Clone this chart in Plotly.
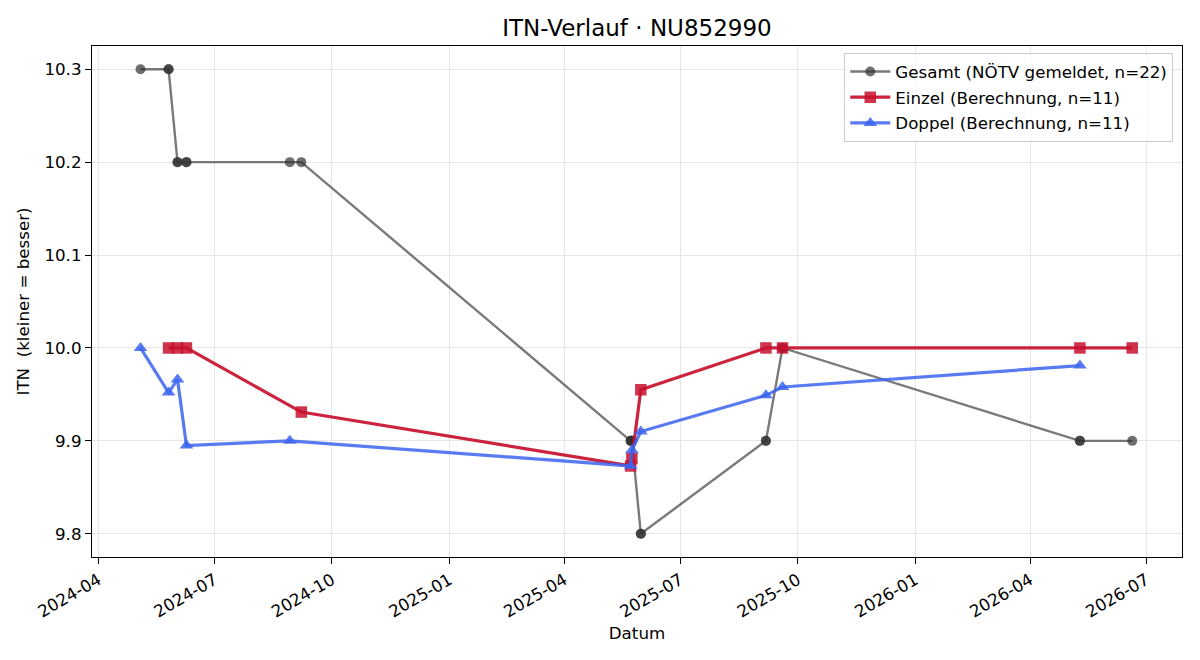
import plotly.graph_objects as go

# ---- data ----
gesamt_dates = ["2024-05-04", "2024-05-26", "2024-05-26", "2024-06-02", "2024-06-02",
                "2024-06-09", "2024-06-09", "2024-08-29", "2024-09-07",
                "2025-05-23", "2025-05-23", "2025-05-24", "2025-05-24",
                "2025-05-31", "2025-05-31", "2025-09-06", "2025-09-06",
                "2025-09-19", "2025-09-19", "2026-05-10", "2026-05-10", "2026-06-20"]
gesamt_vals = [10.3, 10.3, 10.3, 10.2, 10.2,
               10.2, 10.2, 10.2, 10.2,
               9.9, 9.9, 9.9, 9.9,
               9.8, 9.8, 9.9, 9.9,
               10.0, 10.0, 9.9, 9.9, 9.9]

einzel_dates = ["2024-05-26", "2024-06-02", "2024-06-09", "2024-09-07", "2025-05-23",
                "2025-05-24", "2025-05-31", "2025-09-06", "2025-09-19", "2026-05-10",
                "2026-06-20"]
einzel_vals = [10.0, 10.0, 10.0, 9.931, 9.873, 9.881, 9.955, 10.0, 10.0, 10.0, 10.0]

doppel_dates = ["2024-05-04", "2024-05-26", "2024-06-02", "2024-06-09", "2024-08-29",
                "2025-05-23", "2025-05-24", "2025-05-31", "2025-09-06", "2025-09-19",
                "2026-05-10"]
doppel_vals = [10.0, 9.952, 9.966, 9.895, 9.9, 9.873, 9.89, 9.91, 9.949, 9.958, 9.981]

y_ticks = [9.8, 9.9, 10.0, 10.1, 10.2, 10.3]
x_ticks = ["2024-04-01", "2024-07-01", "2024-10-01", "2025-01-01", "2025-04-01",
           "2025-07-01", "2025-10-01", "2026-01-01", "2026-04-01", "2026-07-01"]

FONT = "DejaVu Sans"
FS = 16.7

fig = go.Figure()
fig.add_trace(go.Scatter(
    x=gesamt_dates, y=gesamt_vals, mode="lines+markers",
    name="Gesamt (NÖTV gemeldet, n=22)", legendgroup="g",
    line=dict(color="rgba(50,50,50,0.65)", width=2.4),
    marker=dict(symbol="circle", size=10, color="rgba(50,50,50,0.7)", line=dict(width=0)),
))
fig.add_trace(go.Scatter(
    x=einzel_dates, y=einzel_vals, mode="lines+markers",
    name="Einzel (Berechnung, n=11)", legendgroup="e",
    line=dict(color="rgba(200,16,46,0.92)", width=3.2),
    marker=dict(symbol="square", size=11.5, color="rgba(200,16,46,0.85)", line=dict(width=0)),
))
fig.add_trace(go.Scatter(
    x=doppel_dates, y=doppel_vals, mode="lines+markers",
    name="Doppel (Berechnung, n=11)", legendgroup="d",
    line=dict(color="rgba(60,100,240,0.85)", width=3.2),
    marker=dict(symbol="triangle-up", size=12, color="rgba(60,100,240,0.85)", line=dict(width=0)),
))

fig.update_layout(
    width=1200, height=660,
    margin=dict(l=92, r=18, t=46, b=103),
    paper_bgcolor="white", plot_bgcolor="white",
    font=dict(family=FONT, size=FS, color="black"),
    title=dict(text="ITN-Verlauf · NU852990", xref="paper", x=0.5, xanchor="center",
               y=1 - 28 / 660, yanchor="middle", font=dict(size=23, family=FONT)),
    legend=dict(x=0.992, xanchor="right", y=0.986, yanchor="top",
                bordercolor="#cccccc", borderwidth=1, bgcolor="rgba(255,255,255,0.8)",
                font=dict(size=FS, family=FONT), tracegroupgap=1,
                itemwidth=40),
    showlegend=True,
)

fig.update_xaxes(
    type="date", range=["2024-03-27", "2026-07-29"],
    tickvals=x_ticks, tickformat="%Y-%m", tickangle=-30,
    ticks="outside", ticklen=6, tickcolor="black",
    showgrid=True, gridcolor="#e6e6e6", gridwidth=1,
    showline=True, linecolor="black", linewidth=1.2, mirror=True,
    zeroline=False,
    title=dict(text="Datum", font=dict(size=FS, family=FONT), standoff=6),
    tickfont=dict(size=FS, family=FONT),
)
fig.update_yaxes(
    range=[9.775, 10.325], tickvals=y_ticks, tickformat=".1f",
    ticks="outside", ticklen=6, tickcolor="black",
    showgrid=True, gridcolor="#e6e6e6", gridwidth=1,
    showline=True, linecolor="black", linewidth=1.2, mirror=True,
    zeroline=False,
    title=dict(text="ITN\u00a0 (kleiner = besser)", font=dict(size=FS, family=FONT), standoff=10),
    tickfont=dict(size=FS, family=FONT),
)

fig.write_html("out.html")
